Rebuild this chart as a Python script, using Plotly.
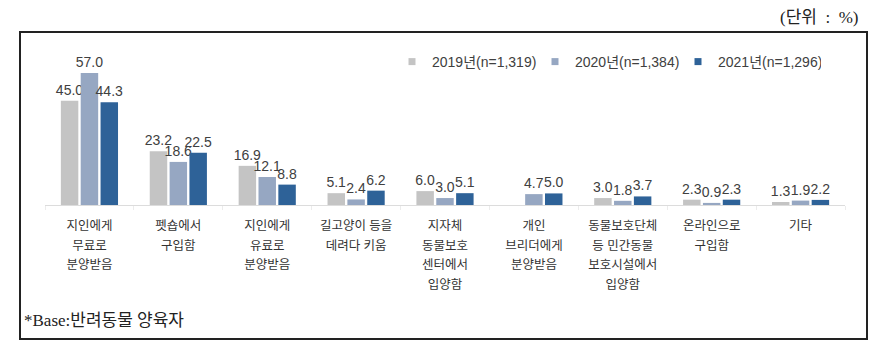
import plotly.graph_objects as go

category_lines = [
    ["지인에게", "무료로", "분양받음"],
    ["펫숍에서", "구입함"],
    ["지인에게", "유료로", "분양받음"],
    ["길고양이 등을", "데려다 키움"],
    ["지자체", "동물보호", "센터에서", "입양함"],
    ["개인", "브리더에게", "분양받음"],
    ["동물보호단체", "등 민간동물", "보호시설에서", "입양함"],
    ["온라인으로", "구입함"],
    ["기타"],
]
series_names = ["2019년(n=1,319)", "2020년(n=1,384)", "2021년(n=1,296)"]
v2019 = [45.0, 23.2, 16.9, 5.1, 6.0, None, 3.0, 2.3, 1.3]
v2020 = [57.0, 18.6, 12.1, 2.4, 3.0, 4.7, 1.8, 0.9, 1.9]
v2021 = [44.3, 22.5, 8.8, 6.2, 5.1, 5.0, 3.7, 2.3, 2.2]
colors = ["#c4c4c4", "#96a7c2", "#2e6298"]

FONT = "Liberation Sans, Noto Sans CJK KR, sans-serif"
SERIF = "Liberation Serif, Noto Sans CJK KR, serif"

# category keys (plain) and display tick text (small glyphs, wide line spacing)
cat_keys = [" ".join(lines) for lines in category_lines]
tick_text = ["<br>".join(f"<span style='font-size:12.5px'>{s}</span>" for s in lines)
             for lines in category_lines]

ML, MR, MT, MB = 45, 39, 50, 151
W, H = 884, 356
PW, PH = W - ML - MR, H - MT - MB


def px_x(p):
    return (p - ML) / PW


def px_y(p):
    return (H - MB - p) / PH


fig = go.Figure()
for name, vals, col in zip(series_names, [v2019, v2020, v2021], colors):
    fig.add_trace(go.Bar(
        x=cat_keys, y=vals, name=name, showlegend=False,
        marker=dict(color=col, line=dict(width=0)),
        text=[("" if v is None else f"{v:.1f}") for v in vals],
        textposition="outside", constraintext="none", cliponaxis=False,
        textfont=dict(family=FONT, size=14, color="#404040"),
    ))
# legend entries (small square swatches like the original)
for name, col in zip(series_names, colors):
    fig.add_trace(go.Scatter(
        x=[None], y=[None], name=name, mode="markers",
        marker=dict(symbol="square", size=7, color=col),
    ))

fig.update_layout(
    width=W, height=H,
    margin=dict(l=ML, r=MR, t=MT, b=MB),
    paper_bgcolor="white", plot_bgcolor="white",
    barmode="group", bargap=0.33, bargroupgap=0.12,
    font=dict(family=FONT, size=13, color="#333333"),
    showlegend=True,
    legend=dict(orientation="h", x=px_x(392), y=px_y(62), xanchor="left", yanchor="middle",
                font=dict(size=14, color="#404040"), itemwidth=30,
                entrywidth=98, entrywidthmode="pixels",
                bgcolor="rgba(0,0,0,0)", traceorder="normal"),
    xaxis=dict(showline=True, linecolor="#dcdcdc", linewidth=1,
               ticks="outside", tickson="boundaries", ticklen=4, tickcolor="#ececec",
               tickmode="array", tickvals=cat_keys, ticktext=tick_text,
               tickfont=dict(size=15, color="#333333"), tickangle=0,
               ticklabelstandoff=6),
    yaxis=dict(visible=False, range=[0, 66.9]),
    shapes=[dict(type="rect", xref="paper", yref="paper",
                 x0=px_x(20), x1=px_x(867), y0=px_y(339), y1=px_y(32),
                 line=dict(color="#222222", width=2), layer="below")],
    annotations=[
        dict(text="(단위&nbsp;&nbsp;:&nbsp;&nbsp;%)", xref="paper", yref="paper",
             x=px_x(861), y=px_y(17), xanchor="right", yanchor="middle",
             showarrow=False, font=dict(family=SERIF, size=17, color="#222222")),
        dict(text="*Base:반려동물 양육자", xref="paper", yref="paper",
             x=px_x(22), y=px_y(320), xanchor="left", yanchor="middle",
             showarrow=False, font=dict(family=SERIF, size=17, color="#222222")),
    ],
)

fig.write_html("out.html", config={"displayModeBar": False},
               post_script="document.body.style.margin='0';")
